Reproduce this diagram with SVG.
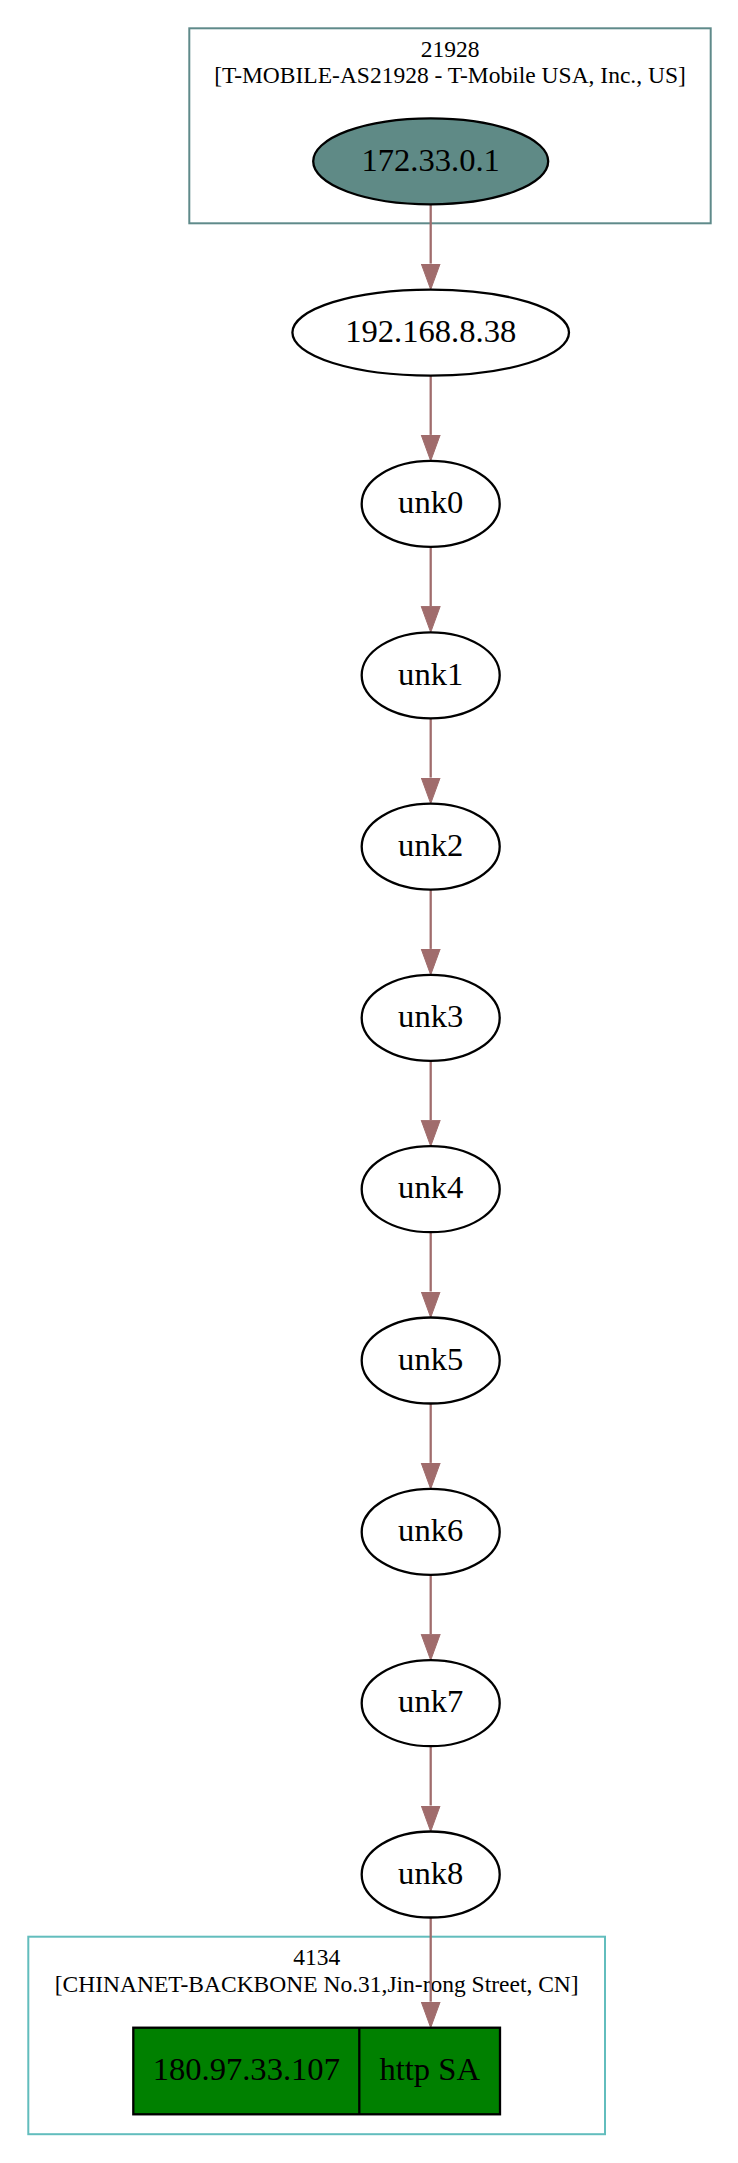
<svg xmlns="http://www.w3.org/2000/svg" width="738" height="2163" viewBox="0 0 738 2163">
<style>
  .bg { fill: #ffffff; }
  .cl1 { fill: none; stroke: #5f8a8a; stroke-width: 2; }
  .cl2 { fill: none; stroke: #62bdbd; stroke-width: 2; }
  .cltxt { font-family: "Liberation Serif", "Times New Roman", serif; font-size: 23.5px; fill: #000; text-anchor: middle; }
  .node { fill: #ffffff; stroke: #000; stroke-width: 2.3; }
  .src { fill: #5f8a86; stroke: #000; stroke-width: 2.3; }
  .rec { fill: #008000; stroke: #000; stroke-width: 2.3; }
  .ntxt { font-family: "Liberation Serif", "Times New Roman", serif; font-size: 32.6px; fill: #000; text-anchor: middle; }
  .edge { stroke: #a06c6c; stroke-width: 2.3; fill: none; marker-end: url(#arr); }
</style>
<defs>
  <marker id="arr" viewBox="0 -11 28 22" markerWidth="28" markerHeight="22" refX="0" refY="0" orient="auto" markerUnits="userSpaceOnUse">
    <polygon points="0,-9.5 26,0 0,9.5" fill="#a06c6c" stroke="#a06c6c" stroke-width="1"/>
  </marker>
</defs>
<rect class="bg" x="0" y="0" width="738" height="2163"/>

<g id="cluster_21928">
  <rect class="cl1" x="189.3" y="28.3" width="521.4" height="195"/>
  <text class="cltxt" x="450" y="56.7">21928</text>
  <text class="cltxt" x="450" y="83.3">[T-MOBILE-AS21928 - T-Mobile USA, Inc., US]</text>
</g>

<g id="cluster_4134">
  <rect class="cl2" x="28.3" y="1936.7" width="576.7" height="197.5"/>
  <text class="cltxt" x="316.7" y="1965">4134</text>
  <text class="cltxt" x="316.7" y="1991.7">[CHINANET-BACKBONE No.31,Jin-rong Street, CN]</text>
</g>

<g id="connectors">
  <line class="edge" x1="430.7" y1="204.3" x2="430.7" y2="263.6"/>
  <line class="edge" x1="430.7" y1="375.6" x2="430.7" y2="434.9"/>
  <line class="edge" x1="430.7" y1="546.9" x2="430.7" y2="606.3"/>
  <line class="edge" x1="430.7" y1="718.3" x2="430.7" y2="777.6"/>
  <line class="edge" x1="430.7" y1="889.6" x2="430.7" y2="948.9"/>
  <line class="edge" x1="430.7" y1="1060.9" x2="430.7" y2="1120.2"/>
  <line class="edge" x1="430.7" y1="1232.2" x2="430.7" y2="1291.5"/>
  <line class="edge" x1="430.7" y1="1403.5" x2="430.7" y2="1462.9"/>
  <line class="edge" x1="430.7" y1="1574.9" x2="430.7" y2="1634.2"/>
  <line class="edge" x1="430.7" y1="1746.2" x2="430.7" y2="1805.5"/>
  <line class="edge" x1="430.7" y1="1917.5" x2="430.7" y2="2001.7"/>
</g>

<g id="n_172_33_0_1">
  <ellipse class="src" cx="430.7" cy="161.3" rx="117.5" ry="43"/>
  <text class="ntxt" x="430.7" y="170.5">172.33.0.1</text>
</g>
<g id="n_192_168_8_38">
  <ellipse class="node" cx="430.7" cy="332.6" rx="138.3" ry="43"/>
  <text class="ntxt" x="430.7" y="341.8">192.168.8.38</text>
</g>
<g id="n_unk0">
  <ellipse class="node" cx="430.7" cy="503.9" rx="69" ry="43"/>
  <text class="ntxt" x="430.7" y="513.1">unk0</text>
</g>
<g id="n_unk1">
  <ellipse class="node" cx="430.7" cy="675.3" rx="69" ry="43"/>
  <text class="ntxt" x="430.7" y="684.5">unk1</text>
</g>
<g id="n_unk2">
  <ellipse class="node" cx="430.7" cy="846.6" rx="69" ry="43"/>
  <text class="ntxt" x="430.7" y="855.8">unk2</text>
</g>
<g id="n_unk3">
  <ellipse class="node" cx="430.7" cy="1017.9" rx="69" ry="43"/>
  <text class="ntxt" x="430.7" y="1027.1">unk3</text>
</g>
<g id="n_unk4">
  <ellipse class="node" cx="430.7" cy="1189.2" rx="69" ry="43"/>
  <text class="ntxt" x="430.7" y="1198.4">unk4</text>
</g>
<g id="n_unk5">
  <ellipse class="node" cx="430.7" cy="1360.5" rx="69" ry="43"/>
  <text class="ntxt" x="430.7" y="1369.7">unk5</text>
</g>
<g id="n_unk6">
  <ellipse class="node" cx="430.7" cy="1531.9" rx="69" ry="43"/>
  <text class="ntxt" x="430.7" y="1541.1">unk6</text>
</g>
<g id="n_unk7">
  <ellipse class="node" cx="430.7" cy="1703.2" rx="69" ry="43"/>
  <text class="ntxt" x="430.7" y="1712.4">unk7</text>
</g>
<g id="n_unk8">
  <ellipse class="node" cx="430.7" cy="1874.5" rx="69" ry="43"/>
  <text class="ntxt" x="430.7" y="1883.7">unk8</text>
</g>

<g id="n_180_97_33_107">
  <rect class="rec" x="133.3" y="2027.7" width="366.7" height="86.6"/>
  <line x1="359.3" y1="2027.7" x2="359.3" y2="2114.3" stroke="#000" stroke-width="2.3"/>
  <text class="ntxt" x="246.3" y="2080.2">180.97.33.107</text>
  <text class="ntxt" x="429.7" y="2080.2">http SA</text>
</g>
</svg>
